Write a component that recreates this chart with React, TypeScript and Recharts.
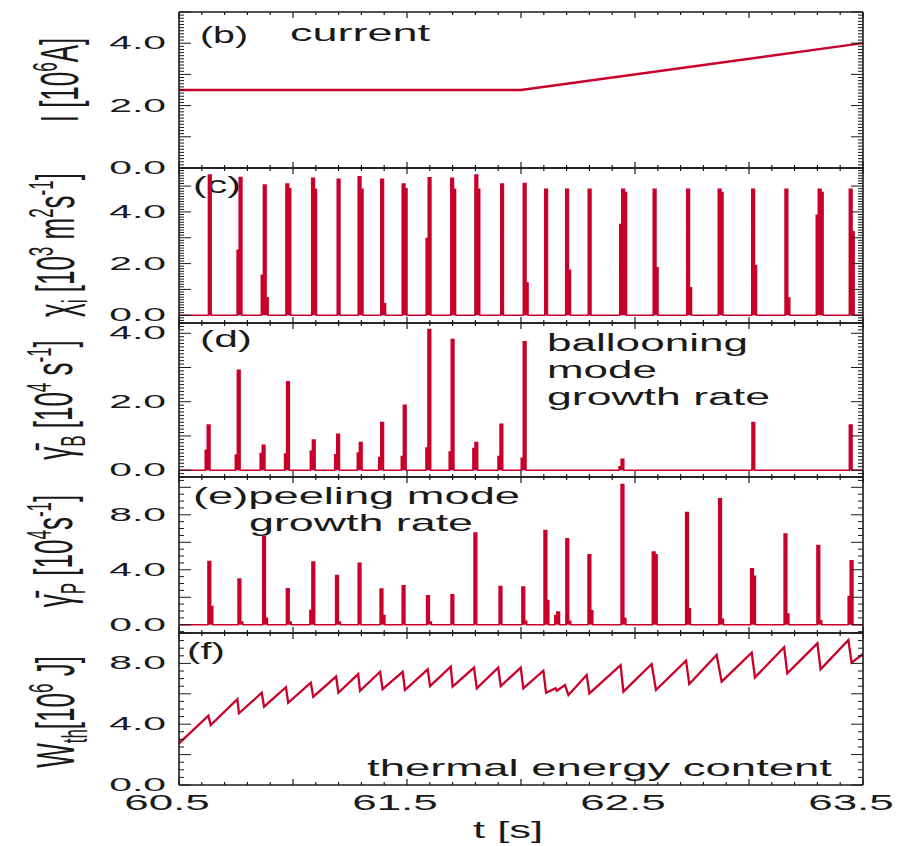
import { ComposedChart, Area, Line, XAxis, YAxis } from "recharts";

const FONT = '"Liberation Sans", Arial, Helvetica, sans-serif';
const RED = "#c8002a";
const INK = "#1a1a1a";

// time axis
const T_MIN = 60.5;
const T_MAX = 63.5;
const tLabels = [60.5, 61.5, 62.5, 63.5];

// (b) plasma current [10^6 A]
const curT = [60.5, 62.0, 63.5];
const curI = [2.5, 2.5, 4.0];

// (c) chi_i spikes [10^3 m^2/s]
const chiT = [60.629, 60.764, 60.87, 60.969, 61.082, 61.194, 61.286, 61.385, 61.479, 61.593, 61.692, 61.798, 61.911, 62.01, 62.104, 62.196, 62.295, 62.442, 62.58, 62.727, 62.865, 63.012, 63.158, 63.304, 63.44];
const chiPeak = [5.43, 5.33, 5.04, 5.08, 5.3, 5.26, 5.36, 5.26, 5.08, 5.32, 5.3, 5.43, 5.08, 5.1, 4.88, 4.88, 4.88, 4.88, 4.88, 4.88, 4.88, 4.88, 4.88, 4.88, 4.88];
const chiPre = [0, 2.52, 1.55, 0, 0, 0, 0, 0, 0, 2.97, 0, 0, 0, 0, 0, 0, 0, 3.51, 0, 0, 0, 0, 0, 3.87, 0];
const chiTail = [0, 0, 0.68, 4.9, 4.88, 0, 4.88, 0.45, 4.9, 0, 4.88, 4.88, 0, 1.25, 0, 1.74, 0, 4.75, 1.84, 1.06, 4.75, 1.93, 0.67, 4.75, 3.23];

// (d) ballooning mode growth rate [10^4 1/s]
const balT = [60.624, 60.756, 60.865, 60.972, 61.085, 61.192, 61.291, 61.385, 61.484, 61.592, 61.694, 61.798, 61.908, 62.01, 62.439, 63.013, 63.44];
const balPeak = [1.32, 2.92, 0.73, 2.58, 0.88, 1.05, 0.81, 1.39, 1.9, 4.11, 3.82, 0.81, 1.34, 3.75, 0.32, 1.39, 1.32];
const balPre = [0.58, 0.44, 0.49, 0.47, 0.55, 0.45, 0.5, 0.37, 0.4, 0.65, 0.53, 0.63, 0.4, 0.35, 0.1, 0, 0];

// (e) peeling mode growth rate [10^4 1/s]
const peelT = [60.627, 60.759, 60.867, 60.971, 61.083, 61.187, 61.286, 61.382, 61.479, 61.586, 61.693, 61.794, 61.904, 62.004, 62.101, 62.157, 62.197, 62.294, 62.439, 62.576, 62.722, 62.867, 63.007, 63.154, 63.298, 63.444];
const peelPeak = [4.6, 3.32, 6.42, 2.62, 4.56, 3.59, 4.48, 2.6, 2.84, 2.11, 2.18, 6.67, 2.79, 2.74, 6.86, 0.92, 6.25, 5.09, 10.2, 5.29, 8.17, 9.16, 4.07, 6.6, 5.77, 4.65];
const peelPre = [0, 0, 0, 0, 1.04, 0, 0, 0, 0, 0, 0, 0, 0, 0, 0, 0.68, 0, 0, 0, 0, 0, 0, 0, 0, 0, 2.06];
const peelTail = [1.33, 0.2, 0.48, 0.2, 0, 0.2, 0, 0.68, 0, 0.2, 0, 0, 0, 0.25, 1.77, 0, 0.25, 1.02, 0.45, 5.09, 1.16, 0.4, 3.52, 0.79, 0.3, 0];

// (f) thermal energy content [10^6 J]
const wT = [60.5, 60.629, 60.639, 60.756, 60.763, 60.863, 60.873, 60.969, 60.979, 61.078, 61.089, 61.189, 61.199, 61.286, 61.294, 61.382, 61.393, 61.481, 61.491, 61.591, 61.601, 61.692, 61.7, 61.794, 61.806, 61.9, 61.911, 61.999, 62.01, 62.098, 62.11, 62.152, 62.157, 62.193, 62.208, 62.288, 62.3, 62.437, 62.449, 62.573, 62.592, 62.724, 62.738, 62.858, 62.88, 63.012, 63.026, 63.154, 63.168, 63.3, 63.314, 63.436, 63.45, 63.5];
const wW = [2.74, 4.56, 3.95, 5.64, 4.72, 6.07, 5.15, 6.43, 5.41, 6.73, 5.81, 7.13, 6.07, 7.3, 6.2, 7.45, 6.3, 7.45, 6.25, 7.61, 6.51, 7.78, 6.47, 7.72, 6.36, 7.72, 6.51, 7.72, 6.36, 7.52, 6.07, 6.36, 6.2, 6.58, 5.92, 7.24, 6.03, 7.89, 6.14, 7.96, 6.25, 8.18, 6.64, 8.55, 6.8, 8.7, 7.08, 9.06, 7.35, 9.32, 7.61, 9.54, 8.05, 8.62];

const SPIKE_W = 0.012;
const STEP_W = 0.009;

function spikes(ts: number[], peaks: number[], pres?: number[], tails?: number[]) {
  const pts: { t: number; v: number }[] = [{ t: T_MIN, v: 0 }];
  ts.forEach((t, i) => {
    const pre = pres ? pres[i] : 0;
    const tail = tails ? tails[i] : 0;
    if (pre > 0) pts.push({ t: t - STEP_W, v: 0 }, { t: t - STEP_W, v: pre }, { t, v: pre });
    else pts.push({ t, v: 0 });
    pts.push({ t, v: peaks[i] }, { t: t + SPIKE_W, v: peaks[i] });
    if (tail > 0)
      pts.push({ t: t + SPIKE_W, v: tail }, { t: t + SPIKE_W + STEP_W, v: tail }, { t: t + SPIKE_W + STEP_W, v: 0 });
    else pts.push({ t: t + SPIKE_W, v: 0 });
  });
  pts.push({ t: T_MAX, v: 0 });
  return pts;
}

const pairs = (ts: number[], vs: number[]) => ts.map((t, i) => ({ t, v: vs[i] }));

function steps(a: number, b: number, step: number) {
  const out: number[] = [];
  const n = Math.round((b - a) / step);
  for (let i = 0; i <= n; i++) out.push(Math.round((a + i * step) * 1000) / 1000);
  return out;
}

const near = (v: number, step: number, base = 0) => {
  const k = (v - base) / step;
  return Math.abs(k - Math.round(k)) < 1e-6;
};

const xTicks = steps(T_MIN, T_MAX, 0.1);

const makeXTick = (side: "top" | "bottom", labels?: number[]) => (props: any) => {
  const { x, y, payload } = props;
  const v = payload.value;
  const len = near(v, 0.5, T_MIN) ? 6 : 3;
  const dir = side === "bottom" ? -1 : 1;
  const lab = labels && labels.some((l) => Math.abs(l - v) < 1e-6);
  return (
    <g>
      <line x1={x} y1={y} x2={x} y2={y + dir * len} stroke={INK} strokeWidth={1.2} />
      {lab && (
        <text
          transform={`translate(${x - 12},${y + 25}) scale(2.0,1)`}
          textAnchor="middle"
          fontSize={22}
          fontFamily={FONT}
          fill={INK}
        >
          {v.toFixed(1)}
        </text>
      )}
    </g>
  );
};

const makeYTick = (side: "left" | "right", major: number, labels: number[]) => (props: any) => {
  const { x, y, payload } = props;
  const v = payload.value;
  const len = near(v, major) ? 12 : 5;
  const dir = side === "left" ? 1 : -1;
  const lab = side === "left" && labels.some((l) => Math.abs(l - v) < 1e-6);
  return (
    <g>
      <line x1={x} y1={y} x2={x + dir * len} y2={y} stroke={INK} strokeWidth={1} />
      {lab && (
        <text
          transform={`translate(${x - 13},${y + 6}) scale(2.15,1)`}
          textAnchor="end"
          fontSize={19}
          fontFamily={FONT}
          fill={INK}
        >
          {v.toFixed(1)}
        </text>
      )}
    </g>
  );
};

type PanelProps = {
  top: number;
  height: number;
  domain: [number, number];
  minor: number;
  major: number;
  labels: number[];
  data: { t: number; v: number }[];
  filled: boolean;
  xLabels?: number[];
};

const PAD = 10;
const axisLine = { stroke: INK, strokeWidth: 1.6 };

function Panel({ top, height, domain, minor, major, labels, data, filled, xLabels }: PanelProps) {
  const extra = xLabels ? 50 : 0;
  const yTicks = steps(Math.ceil(domain[0] / minor - 1e-9) * minor, Math.floor(domain[1] / minor + 1e-9) * minor, minor);
  return (
    <div style={{ position: "absolute", left: 0, top: top - PAD }}>
      <ComposedChart
        width={899}
        height={height + 2 * PAD + extra}
        data={data}
        margin={{ top: PAD - 1, right: 0, bottom: PAD - 1 + extra, left: 0 }}
      >
        <XAxis
          xAxisId="b"
          dataKey="t"
          type="number"
          domain={[T_MIN, T_MAX]}
          allowDataOverflow
          ticks={xTicks}
          interval={0}
          height={1}
          tickSize={0}
          tickMargin={0}
          tickLine={false}
          axisLine={axisLine}
          tick={makeXTick("bottom", xLabels)}
        />
        <XAxis
          xAxisId="t"
          orientation="top"
          dataKey="t"
          type="number"
          domain={[T_MIN, T_MAX]}
          allowDataOverflow
          ticks={xTicks}
          interval={0}
          height={1}
          tickSize={0}
          tickMargin={0}
          tickLine={false}
          axisLine={axisLine}
          tick={makeXTick("top")}
        />
        <YAxis
          yAxisId="l"
          width={179}
          type="number"
          domain={domain}
          allowDataOverflow
          ticks={yTicks}
          interval={0}
          tickSize={0}
          tickMargin={0}
          tickLine={false}
          axisLine={axisLine}
          tick={makeYTick("left", major, labels)}
        />
        <YAxis
          yAxisId="r"
          orientation="right"
          width={36}
          type="number"
          domain={domain}
          allowDataOverflow
          ticks={yTicks}
          interval={0}
          tickSize={0}
          tickMargin={0}
          tickLine={false}
          axisLine={axisLine}
          tick={makeYTick("right", major, labels)}
        />
        {filled ? (
          <Area
            xAxisId="b"
            yAxisId="l"
            type="linear"
            dataKey="v"
            baseValue={0}
            stroke={RED}
            strokeWidth={1.5}
            fill={RED}
            fillOpacity={1}
            isAnimationActive={false}
          />
        ) : (
          <Line
            xAxisId="b"
            yAxisId="l"
            type="linear"
            dataKey="v"
            stroke={RED}
            strokeWidth={2.3}
            dot={false}
            isAnimationActive={false}
          />
        )}
      </ComposedChart>
    </div>
  );
}

const Txt = ({ x, y, w, size = 24, children }: { x: number; y: number; w: number; size?: number; children: string }) => (
  <text x={x} y={y} fontSize={size} textLength={w} lengthAdjust="spacingAndGlyphs" fontFamily={FONT} fill={INK}>
    {children}
  </text>
);

const YTitle = ({ x, y, children }: { x: number; y: number; children: any }) => (
  <text
    transform={`translate(${x},${y}) scale(2.1,1) rotate(-90)`}
    textAnchor="middle"
    fontSize={26}
    fontFamily={FONT}
    fill={INK}
  >
    {children}
  </text>
);

const sup = (s: string) => (
  <tspan dy={-10} fontSize={17}>
    {s}
  </tspan>
);

function Annotations() {
  return (
    <svg width={899} height={846} style={{ position: "absolute", left: 0, top: 0 }}>
      <YTitle x={78} y={80}>
        <tspan>I [10</tspan>
        {sup("6")}
        <tspan dy={10}>A]</tspan>
      </YTitle>
      <YTitle x={74} y={245}>
        <tspan>χ</tspan>
        <tspan dy={6} fontSize={17}>i</tspan>
        <tspan dy={-6}> [10</tspan>
        {sup("3")}
        <tspan dy={10}> m</tspan>
        {sup("2")}
        <tspan dy={10}>s</tspan>
        {sup("-1")}
        <tspan dy={10}>]</tspan>
      </YTitle>
      <YTitle x={72} y={400}>
        <tspan>γ̄</tspan>
        <tspan dy={6} fontSize={17}>B</tspan>
        <tspan dy={-6}> [10</tspan>
        {sup("4")}
        <tspan dy={10}> s</tspan>
        {sup("-1")}
        <tspan dy={10}>]</tspan>
      </YTitle>
      <YTitle x={72} y={551}>
        <tspan>γ̄</tspan>
        <tspan dy={6} fontSize={17}>P</tspan>
        <tspan dy={-6}> [10</tspan>
        {sup("4")}
        <tspan dy={10}>s</tspan>
        {sup("-1")}
        <tspan dy={10}>]</tspan>
      </YTitle>
      <YTitle x={74} y={712}>
        <tspan>W</tspan>
        <tspan dy={6} fontSize={17}>th</tspan>
        <tspan dy={-6}>[10</tspan>
        {sup("6")}
        <tspan dy={10}> J]</tspan>
      </YTitle>

      <Txt x={200} y={43} w={48}>(b)</Txt>
      <Txt x={290} y={41} w={140}>current</Txt>
      <Txt x={193} y={193} w={48}>(c)</Txt>
      <Txt x={200} y={347} w={52}>(d)</Txt>
      <Txt x={547} y={351} w={201} size={23}>ballooning</Txt>
      <Txt x={547} y={378} w={110} size={23}>mode</Txt>
      <Txt x={547} y={405} w={223} size={23}>growth rate</Txt>
      <Txt x={193} y={504} w={327}>(e)peeling mode</Txt>
      <Txt x={249} y={531} w={224}>growth rate</Txt>
      <Txt x={187} y={659} w={38}>(f)</Txt>
      <Txt x={367} y={776} w={465}>thermal energy content</Txt>
      <Txt x={473} y={838} w={70}>t [s]</Txt>
    </svg>
  );
}

export default function App() {
  return (
    <div style={{ position: "absolute", left: 0, top: 0, width: 899, height: 846, background: "#fff", overflow: "hidden" }}>
      <Annotations />
      <Panel top={12} height={156} domain={[0, 5]} minor={0.1} major={1} labels={[0, 2, 4]} data={pairs(curT, curI)} filled={false} />
      <Panel top={168} height={155} domain={[-0.3, 5.7]} minor={0.1} major={1} labels={[0, 2, 4]} data={spikes(chiT, chiPeak, chiPre, chiTail)} filled />
      <Panel top={323} height={154} domain={[-0.2, 4.3]} minor={0.1} major={1} labels={[0, 2, 4]} data={spikes(balT, balPeak, balPre)} filled />
      <Panel top={477} height={156} domain={[-0.6, 10.75]} minor={0.5} major={2} labels={[0, 4, 8]} data={spikes(peelT, peelPeak, peelPre, peelTail)} filled />
      <Panel top={633} height={152} domain={[0, 10]} minor={0.5} major={2} labels={[0, 4, 8]} data={pairs(wT, wW)} filled={false} xLabels={tLabels} />
    </div>
  );
}
